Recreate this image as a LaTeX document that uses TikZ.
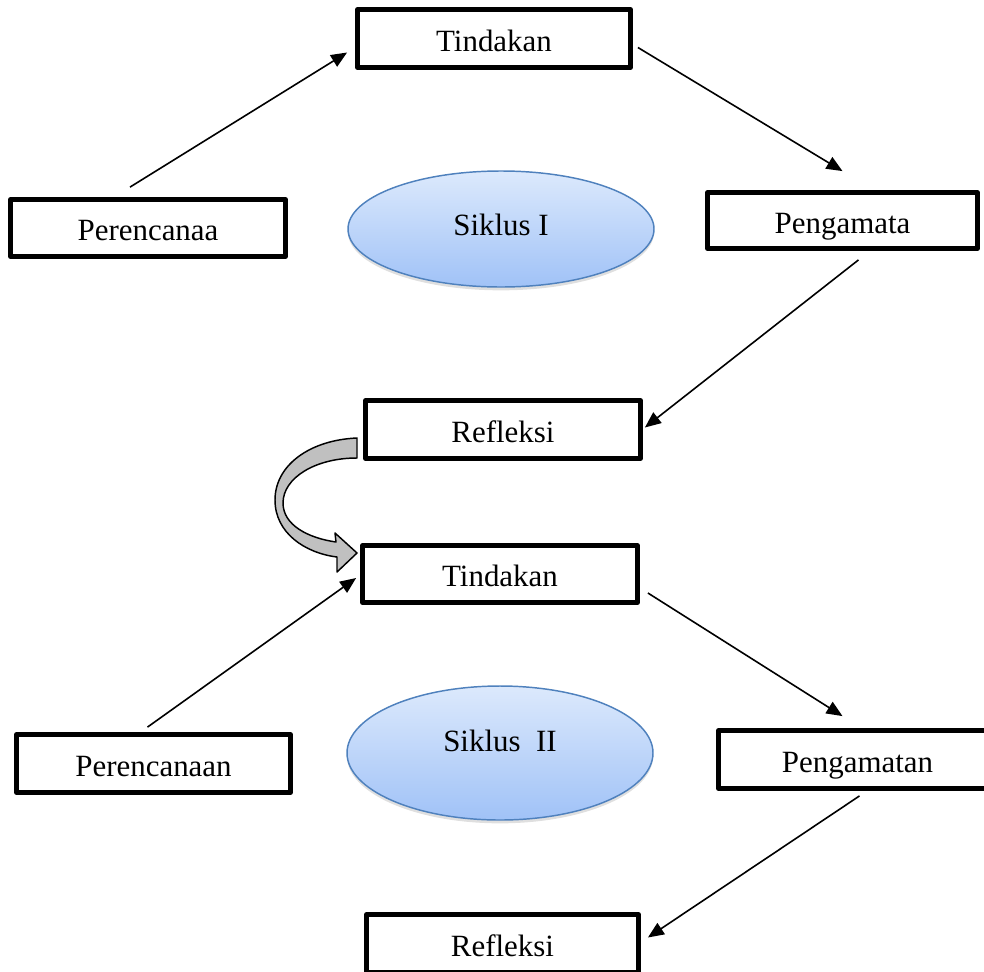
\documentclass[tikz,border=0pt]{standalone}
\usepackage{fontspec}
\setmainfont{Liberation Serif}
\usetikzlibrary{arrows.meta,calc,shapes.geometric,shadows}
\definecolor{ellborder}{RGB}{79,129,189}
\definecolor{elltop}{RGB}{220,233,252}
\definecolor{ellbot}{RGB}{160,194,247}
\definecolor{ribbon}{RGB}{192,192,192}
\begin{document}
\begin{tikzpicture}[x=0.75pt,y=-0.75pt,
  box/.style={draw=black,line width=3.6pt,line join=round,rectangle,inner sep=0pt,
    text height=19.2pt,text depth=0pt,font=\fontsize{23.2}{28}\selectfont},
  cyc/.style={ellipse,draw=ellborder,line width=1.1pt,inner sep=0pt,
    top color=elltop,bottom color=ellbot,
    drop shadow={opacity=0.25,shadow xshift=0pt,shadow yshift=-2.5pt},
    font=\fontsize{23.2}{28}\selectfont,text height=15.5pt,
    minimum width=229.5pt},
  arr/.style={line width=1.2pt,-{Triangle[length=12pt,width=10pt]}},
  ribbonarrow/.style={draw=black,line width=1.1pt,line join=round,fill=ribbon}]
\useasboundingbox (0,0) rectangle (984,971);
\clip (0,0) rectangle (984,971);

% cycle I
\node[box,minimum width=204.75pt,minimum height=43.5pt] (t1) at (494,38.5) {Tindakan};
\node[box,minimum width=206.25pt,minimum height=42.75pt] (p1) at (148,228) {Perencanaa};
\node[box,minimum width=202.5pt,minimum height=42pt] (g1) at (842.5,220.5) {Pengamata};
\node[box,minimum width=206.25pt,minimum height=43.5pt] (r1) at (503,429.5) {Refleksi};
\node[cyc,minimum height=87pt,text depth=6.5pt] (e1) at (501,229) {Siklus I};

% cycle II
\node[box,minimum width=206.25pt,minimum height=42.75pt] (t2) at (500,574) {Tindakan};
\node[box,minimum width=205.5pt,minimum height=43.5pt] (p2) at (153.5,763.5) {Perencanaan};
\node[box,minimum width=208.5pt,minimum height=43.5pt] (g2) at (857.5,759.5) {Pengamatan};
\node[box,minimum width=204pt,minimum height=43.5pt] (r2) at (502.5,943.5) {Refleksi};
\node[cyc,minimum height=100.5pt,text depth=18.5pt] (e2) at (500,753) {Siklus\ \ II};

% connectors cycle I
\draw[arr] ($(p1.north)+(-18,-10)$) -- ($(t1.west)+(-8,14)$);
\draw[arr] ($(t1.east)+(5,9)$) -- ($(g1.north)+(0,-19)$);
\draw[arr] ($(g1.south)+(16,9)$) -- ($(r1.east)+(2,-2)$);

% curved block arrow from Refleksi to Tindakan
\path[ribbonarrow] (357,438) .. controls (310,440) and (275,465) .. (275,500)
  .. controls (275,533) and (305,553) .. (337,557)
  -- (337,572) -- (357,553) -- (335,533) -- (336,542)
  .. controls (308,538) and (283,525) .. (283,503)
  .. controls (283,478) and (315,458) .. (357,458) -- cycle;

% connectors cycle II
\draw[arr] ($(p2.north)+(-6,-5)$) -- ($(t2.west)+(-4,4)$);
\draw[arr] ($(t2.east)+(8,19)$) -- ($(g2.north)+(-15,-12)$);
\draw[arr] ($(g2.south)+(2,5)$) -- ($(r2.east)+(7,-6)$);
\end{tikzpicture}
\end{document}
